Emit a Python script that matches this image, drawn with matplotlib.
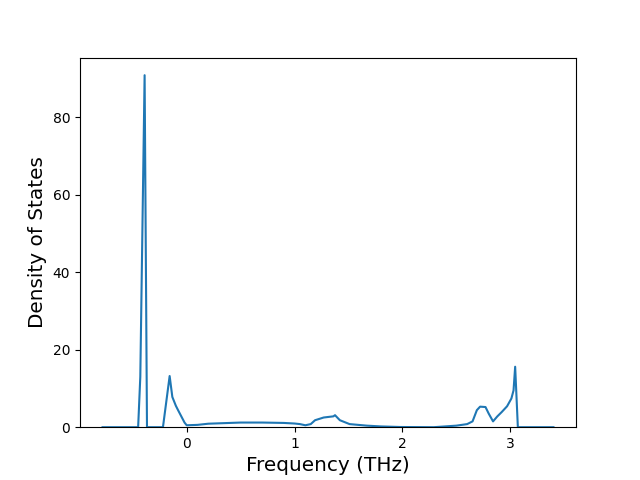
import matplotlib
matplotlib.use("Agg")
import matplotlib.pyplot as plt

# phonon density of states
freq = [-0.78, -0.45, -0.43, -0.39, -0.368, -0.22, -0.158, -0.133, -0.10,
        -0.08, -0.05, -0.02, 0.0, 0.1, 0.2, 0.3, 0.5, 0.7, 0.9, 1.0, 1.05,
        1.1, 1.15, 1.19, 1.27, 1.33, 1.36, 1.375, 1.42, 1.51, 1.67, 1.8,
        1.98, 2.29, 2.50, 2.60, 2.65, 2.69, 2.72, 2.77, 2.80, 2.84, 2.88,
        2.92, 2.97, 3.01, 3.03, 3.045, 3.07, 3.40]
dos = [0.0, 0.0, 13.0, 90.8, 0.0, 0.0, 13.2, 7.8, 5.5,
       4.4, 2.8, 1.2, 0.5, 0.6, 0.9, 1.0, 1.2, 1.2, 1.1, 0.95, 0.8,
       0.5, 0.8, 1.8, 2.5, 2.7, 2.8, 3.1, 1.8, 0.8, 0.4, 0.2,
       0.05, 0.0, 0.4, 0.8, 1.5, 4.4, 5.3, 5.2, 3.5, 1.5, 2.8,
       3.9, 5.4, 7.4, 9.5, 15.6, 0.0, 0.0]

fig, ax = plt.subplots(figsize=(6.4, 4.8), dpi=100)
ax.plot(freq, dos)
ax.set_ylim(bottom=0)
ax.set_xlabel("Frequency (THz)", fontsize=14.4)
ax.set_ylabel("Density of States", fontsize=14.4)
plt.savefig("out.png", dpi=100)
